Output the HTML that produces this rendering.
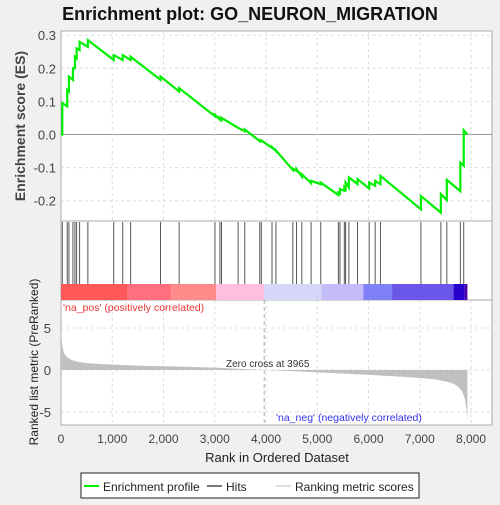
<!DOCTYPE html>
<html><head><meta charset="utf-8"><style>
body{margin:0;background:#f0f0f0;width:500px;height:500px;overflow:hidden;font-family:"Liberation Sans",sans-serif}
</style></head><body>
<svg id="c" width="500" height="500" xmlns="http://www.w3.org/2000/svg"></svg>
<script>
const hitRanks=[25,122,155,233,272,305,363,524,1029,1204,1359,1942,2305,3004,3101,3132,3456,3586,3878,3909,4117,4194,4524,4596,4699,4880,5068,5412,5443,5528,5553,5617,5786,6013,6130,6233,7023,7412,7528,7792,7858];
const esBefore=[0,0.085,0.13,0.165,0.2,0.23,0.255,0.265,0.225,0.225,0.225,0.165,0.13,0.055,0.045,0.045,0.02,0.01,-0.02,-0.02,-0.04,-0.05,-0.107,-0.11,-0.127,-0.147,-0.15,-0.183,-0.178,-0.17,-0.165,-0.16,-0.15,-0.163,-0.155,-0.15,-0.226,-0.236,-0.198,-0.171,-0.094];
const esAfter=[0.095,0.135,0.175,0.2,0.235,0.26,0.28,0.285,0.24,0.24,0.235,0.175,0.14,0.06,0.05,0.05,0.02,0.015,-0.018,-0.018,-0.038,-0.048,-0.103,-0.105,-0.12,-0.14,-0.145,-0.175,-0.165,-0.16,-0.145,-0.13,-0.135,-0.145,-0.14,-0.125,-0.186,-0.18,-0.137,-0.085,0.013];
const esEnd=0.0, nGenes=7930;
const metricRanks=[0,20,60,120,200,350,500,800,1200,1500,2000,2500,3000,3500,3965,4500,5000,5500,6000,6500,7000,7300,7500,7650,7750,7830,7880,7910,7930];
const metricVals=[5.0,3.0,2.0,1.5,1.2,0.95,0.82,0.7,0.6,0.52,0.45,0.37,0.28,0.14,0,-0.14,-0.28,-0.42,-0.58,-0.75,-0.95,-1.12,-1.35,-1.6,-2.0,-2.6,-3.4,-4.6,-6.0];
const xTicks=[0,1000,2000,3000,4000,5000,6000,7000,8000];
const xTickLabels=["0","1,000","2,000","3,000","4,000","5,000","6,000","7,000","8,000"];
const esTicks=[0.3,0.2,0.1,0.0,-0.1,-0.2];
const esTickLabels=["0.3","0.2","0.1","0.0","-0.1","-0.2"];
const mTicks=[5,0,-5];
const barStops=[0,1300,2150,3030,3960,5080,5900,6460,7660,7880,7930];
const barColors=["#ff5858","#ff6f7e","#ff8a8a","#ffbde0","#d6d6fa","#c4bcf8","#8080f8","#6a56e8","#2800cc","#5000a8"];

const X=r=>61+r*0.05125;
const YE=v=>134.5-v*331;
const YM=v=>370-v*8.4;
const svg=document.getElementById('c');const NS="http://www.w3.org/2000/svg";
function mk(t,a,p){const e=document.createElementNS(NS,t);for(const k in a)e.setAttribute(k,a[k]);(p||svg).appendChild(e);return e;}
function txt(s,a){const e=mk('text',a);e.textContent=s;return e;}
const L=61,R=492;
let e=mk('rect',{x:L,y:31,width:R-L,height:394,fill:'#fff',stroke:'#aaa'});


for(const t of esTicks){e=mk('line',{x1:L,x2:R,y1:YE(t),y2:YE(t),stroke:t===0?'#999':'#ddd','stroke-dasharray':t===0?'':'3,3'});


e=txt(esTickLabels[esTicks.indexOf(t)],{x:L-5,y:YE(t)+5,'text-anchor':'end','font-size':13,fill:'#444'});

}
for(const t of xTicks){ if(t===0)continue;
 for(const [a,b] of [[31,221],[300,425]]){e=mk('line',{x1:X(t),x2:X(t),y1:a,y2:b,stroke:'#ddd','stroke-dasharray':'3,3'});
 
 }}
for(const t of mTicks){e=mk('line',{x1:L,x2:R,y1:YM(t),y2:YM(t),stroke:'#ddd','stroke-dasharray':'3,3'});


e=txt(String(t),{x:L-10,y:YM(t)+5,'text-anchor':'end','font-size':13,fill:'#444'});

}
mk('line',{x1:L,x2:R,y1:221,y2:221,stroke:'#aaa'});
mk('line',{x1:L,x2:R,y1:300,y2:300,stroke:'#aaa'});
for(const r of hitRanks){e=mk('line',{x1:X(r),x2:X(r),y1:222,y2:284,stroke:'#555','stroke-width':1});

}
for(let i=0;i<barColors.length;i++){e=mk('rect',{x:X(barStops[i]),y:284,width:X(barStops[i+1])-X(barStops[i]),height:16,fill:barColors[i]});

}
let pts=[[X(0),YE(0)]];
for(let i=0;i<hitRanks.length;i++){pts.push([X(hitRanks[i]),YE(esBefore[i])]);pts.push([X(hitRanks[i]),YE(esAfter[i])]);}
pts.push([X(nGenes),YE(esEnd)]);
e=mk('polyline',{points:pts.map(p=>p.join(',')).join(' '),fill:'none',stroke:'#00ee00','stroke-width':2.2});


let mp=[[X(0),YM(0)]];
for(let i=0;i<metricRanks.length;i++)mp.push([X(metricRanks[i]),YM(metricVals[i])]);
mp.push([X(nGenes),YM(0)]);
e=mk('polygon',{points:mp.map(p=>p.join(',')).join(' '),fill:'#c0c0c0'});


e=mk('line',{x1:X(3965),x2:X(3965),y1:300,y2:425,stroke:'#aaa','stroke-dasharray':'4,3'});


e=txt('Zero cross at 3965',{x:226,y:367,'font-size':10,fill:'#333'});


e=txt("'na_pos' (positively correlated)",{x:63,y:311,'font-size':10.5,fill:'#ee3333'});


e=txt("'na_neg' (negatively correlated)",{x:276,y:421,'font-size':10.5,fill:'#3333ee'});


for(let i=0;i<xTicks.length;i++){e=txt(xTickLabels[i],{x:X(xTicks[i]),y:443,'text-anchor':'middle','font-size':12,fill:'#444'});

}
e=txt('Rank in Ordered Dataset',{x:277,y:462,'text-anchor':'middle','font-size':13,fill:'#222'});


e=txt('Enrichment score (ES)',{x:0,y:0,transform:'translate(25,126) rotate(-90)','text-anchor':'middle','font-size':14,'font-weight':'bold',fill:'#444'});


e=txt('Ranked list metric (PreRanked)',{x:0,y:0,transform:'translate(38,362) rotate(-90)','text-anchor':'middle','font-size':12,fill:'#222'});


e=txt('Enrichment plot: GO_NEURON_MIGRATION',{x:250,y:20,'text-anchor':'middle','font-size':18,'font-weight':'bold',fill:'#111'});


e=mk('rect',{x:81,y:473,width:338,height:25,fill:'#fff',stroke:'#222'});


mk('line',{x1:84,x2:99,y1:486,y2:486,stroke:'#00ee00','stroke-width':2});
e=txt('Enrichment profile',{x:103,y:491,'font-size':12,fill:'#222'});


mk('line',{x1:207,x2:222,y1:486,y2:486,stroke:'#777','stroke-width':2});
e=txt('Hits',{x:226,y:491,'font-size':12,fill:'#222'});


mk('line',{x1:276,x2:291,y1:486,y2:486,stroke:'#ddd','stroke-width':2});
e=txt('Ranking metric scores',{x:295,y:491,'font-size':12,fill:'#222'});


</script>
</body></html>
